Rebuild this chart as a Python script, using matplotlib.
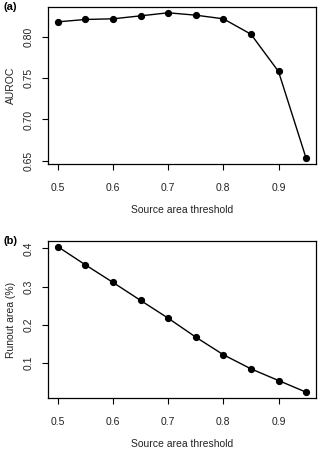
import matplotlib
matplotlib.use("Agg")
import matplotlib.pyplot as plt

plt.rcParams["font.family"] = ["Liberation Sans", "DejaVu Sans"]

thresholds = [0.5, 0.55, 0.6, 0.65, 0.7, 0.75, 0.8, 0.85, 0.9, 0.95]
auroc = [0.8186, 0.8215, 0.8223, 0.8259, 0.8296, 0.8267, 0.8223, 0.8036, 0.7583, 0.653]
runout = [0.4044, 0.357, 0.311, 0.264, 0.2175, 0.168, 0.122, 0.085, 0.0545, 0.024]

x_ticks = [0.5, 0.6, 0.7, 0.8, 0.9]
auroc_ticks = [0.65, 0.70, 0.75, 0.80]
auroc_labels = ["0.65", "0.70", "0.75", "0.80"]
runout_ticks = [0.1, 0.2, 0.3, 0.4]
runout_labels = ["0.1", "0.2", "0.3", "0.4"]


def style_panel(ax, y, ylabel, yticks, ylabels, tag):
    ax.plot(thresholds, y, color="black", lw=1.0, marker="o", ms=4.2)
    ax.margins(0.04)
    ax.set_xticks(x_ticks)
    ax.set_xticklabels([str(t) for t in x_ticks])
    ax.set_yticks(yticks)
    ax.set_yticklabels(ylabels, rotation=90, va="center")
    ax.tick_params(axis="both", direction="out", length=4, width=0.8,
                   labelsize=7.5, color="black", labelcolor="#222222")
    ax.tick_params(axis="x", pad=10)
    ax.tick_params(axis="y", pad=6)
    for s in ax.spines.values():
        s.set_linewidth(0.9)
    ax.set_xlabel("Source area threshold", fontsize=7.5, labelpad=8,
                  color="#222222")
    ax.set_ylabel(ylabel, fontsize=7.5, labelpad=6, color="#222222")
    ax.text(-0.165, 1.0, tag, transform=ax.transAxes, fontsize=8,
            fontweight="bold", va="center", ha="left")


fig = plt.figure(figsize=(3.2, 4.5), dpi=100)
ax1 = fig.add_axes([0.15, 0.6356, 0.8375, 0.3489])
ax2 = fig.add_axes([0.15, 0.1156, 0.8375, 0.3489])

style_panel(ax1, auroc, "AUROC", auroc_ticks, auroc_labels, "(a)")
style_panel(ax2, runout, "Runout area (%)", runout_ticks, runout_labels, "(b)")

fig.savefig("out.png", dpi=100)
